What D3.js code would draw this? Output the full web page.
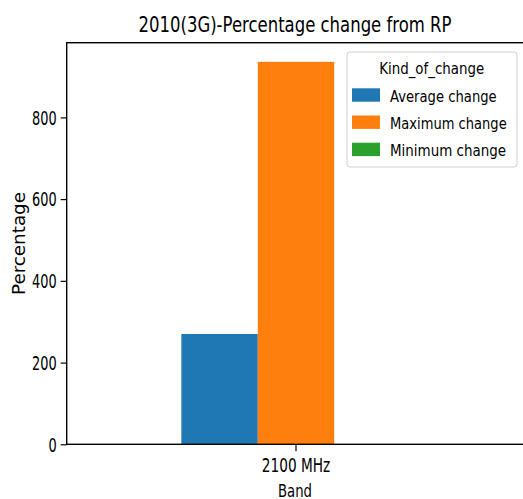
<!DOCTYPE html>
<html>
<head>
<meta charset="utf-8">
<script src="https://cdn.jsdelivr.net/npm/d3@7"></script>
<style>
  html, body { margin: 0; padding: 0; background: #fff; }
  svg { display: block; }
  text { font-family: "DejaVu Sans", sans-serif; fill: #000; }
</style>
</head>
<body>
<svg id="chart" width="523" height="499"></svg>
<script>
// ---- data ----
const categories = ["2100 MHz"];
const seriesNames = ["Average change", "Maximum change", "Minimum change"];
const averageChange = [270];
const maximumChange = [936];
const minimumChange = [0];
const yTicks = [0, 200, 400, 600, 800];
const colors = ["#1f77b4", "#ff7f0e", "#2ca02c"];

const seriesValues = [averageChange, maximumChange, minimumChange];
const rows = categories.map((c, i) => ({
  category: c,
  values: seriesNames.map((s, j) => ({ key: s, value: seriesValues[j][i] }))
}));

// ---- layout ----
const plotLeft = 66.7, plotRight = 525.3, plotTop = 42.7, plotBottom = 444.3;
const svg = d3.select("#chart");

function squeeze(sel, k) {
  sel.each(function () {
    const L = this.getComputedTextLength();
    this.setAttribute("textLength", L * k);
    this.setAttribute("lengthAdjust", "spacingAndGlyphs");
  });
}
function fitTo(sel, width) {
  sel.attr("textLength", width).attr("lengthAdjust", "spacingAndGlyphs");
}

const maxVal = d3.max(seriesValues.flat());
const y = d3.scaleLinear().domain([0, maxVal * 1.05]).range([plotBottom, plotTop]);
const x0 = d3.scaleBand().domain(categories).range([plotLeft, plotRight])
  .paddingInner(0.5).paddingOuter(0.25);
const x1 = d3.scaleBand().domain(seriesNames).range([0, x0.bandwidth()]).padding(0);
const color = d3.scaleOrdinal().domain(seriesNames).range(colors);

// bars
const groups = svg.append("g").selectAll("g").data(rows).join("g")
  .attr("transform", d => `translate(${x0(d.category)},0)`);
groups.selectAll("rect").data(d => d.values).join("rect")
  .attr("x", d => x1(d.key))
  .attr("width", x1.bandwidth())
  .attr("y", d => y(Math.max(0, d.value)))
  .attr("height", d => Math.abs(y(d.value) - y(0)))
  .attr("fill", d => color(d.key));

// y axis
const yAxis = svg.append("g").attr("transform", `translate(${plotLeft},0)`)
  .call(d3.axisLeft(y).tickValues(yTicks).tickSize(6).tickPadding(4).tickSizeOuter(0));
yAxis.select(".domain").remove();
yAxis.selectAll(".tick line").attr("stroke", "#000").attr("stroke-width", 1.2);
yAxis.selectAll(".tick text").style("font-size", "19px").attr("dy", "0.36em");
squeeze(yAxis.selectAll(".tick text"), 0.68);

// x axis
const xAxis = svg.append("g").attr("transform", `translate(0,${plotBottom})`)
  .call(d3.axisBottom(x0).tickSize(7).tickPadding(6).tickSizeOuter(0));
xAxis.select(".domain").remove();
xAxis.selectAll(".tick line").attr("stroke", "#000").attr("stroke-width", 1.2);
xAxis.selectAll(".tick text").style("font-size", "19px").attr("dy", null).attr("y", 27.7);
squeeze(xAxis.selectAll(".tick text"), 0.72);

// spines
svg.append("rect")
  .attr("x", plotLeft).attr("y", plotTop)
  .attr("width", plotRight - plotLeft).attr("height", plotBottom - plotTop)
  .attr("fill", "none").attr("stroke", "#000").attr("stroke-width", 1.4);

// title
fitTo(svg.append("text")
  .attr("x", (plotLeft + plotRight) / 2 - 1).attr("y", 31.7)
  .attr("text-anchor", "middle").style("font-size", "22px")
  .text("2010(3G)-Percentage change from RP"), 313);

// axis labels
fitTo(svg.append("text")
  .attr("x", (plotLeft + plotRight) / 2 - 1).attr("y", 497)
  .attr("text-anchor", "middle").style("font-size", "18.5px")
  .text("Band"), 34);
fitTo(svg.append("text")
  .attr("transform", `translate(24.7,${(plotTop + plotBottom) / 2}) rotate(-90)`)
  .attr("text-anchor", "middle").style("font-size", "17.5px")
  .text("Percentage"), 103);

// legend
const lg = svg.append("g");
lg.append("rect")
  .attr("x", 347).attr("y", 52).attr("width", 170).attr("height", 115)
  .attr("rx", 3).attr("fill", "#fff").attr("fill-opacity", 0.8)
  .attr("stroke", "#d0d0d0").attr("stroke-width", 1);
fitTo(lg.append("text").attr("x", 431.7).attr("y", 73.5)
  .attr("text-anchor", "middle").style("font-size", "16.5px")
  .text("Kind_of_change"), 105);
const labelWidths = [106.7, 116.7, 116];
const items = lg.selectAll("g.item").data(seriesNames).join("g")
  .attr("class", "item")
  .attr("transform", (d, i) => `translate(0,${95 + i * 27.2})`);
items.append("rect").attr("x", 352).attr("y", -6.7).attr("width", 28).attr("height", 13.4)
  .attr("fill", d => color(d));
items.append("text").attr("x", 390).attr("y", 6.5).style("font-size", "16.5px")
  .text(d => d)
  .each(function (d, i) { fitTo(d3.select(this), labelWidths[i]); });
</script>
</body>
</html>
